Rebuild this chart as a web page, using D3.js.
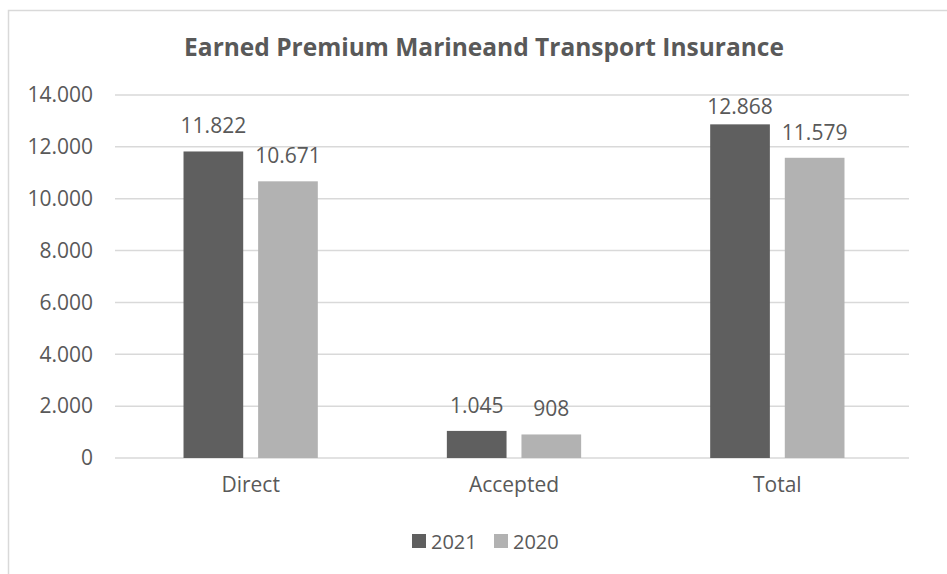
<!DOCTYPE html>
<html>
<head>
<meta charset="utf-8">
<script src="https://cdn.jsdelivr.net/npm/d3@7"></script>
<style>
  body { margin: 0; background: #fff; }
  text { font-family: "Open Sans", sans-serif; fill: #595959; }
</style>
</head>
<body>
<div id="chart"></div>
<script>
const categories = ["Direct", "Accepted", "Total"];
const seriesNames = ["2021", "2020"];
const values2021 = [11822, 1045, 12868];
const values2020 = [10671, 908, 11579];
const yTicks = [0, 2000, 4000, 6000, 8000, 10000, 12000, 14000];
const colors = ["#5f5f5f", "#b2b2b2"];

const W = 947, H = 574;
const margin = { top: 95, right: 38, bottom: 116, left: 119 };
const width = W - margin.left - margin.right;
const height = H - margin.top - margin.bottom;

const locale = d3.formatLocale({ decimal: ",", thousands: ".", grouping: [3], currency: ["", ""] });
const fmt = locale.format(",d");

const svg = d3.select("#chart").append("svg").attr("width", W).attr("height", H);

// outer frame
svg.append("rect")
  .attr("x", 8.5).attr("y", 10.5)
  .attr("width", W).attr("height", H)
  .attr("fill", "none").attr("stroke", "#d9d9d9").attr("stroke-width", 1.5);

svg.append("text")
  .attr("x", 484).attr("y", 56)
  .attr("text-anchor", "middle")
  .attr("font-size", 24.5).attr("font-weight", "bold")
  .text("Earned Premium Marineand Transport Insurance");

const g = svg.append("g").attr("transform", `translate(${margin.left},${margin.top})`);

const x0 = d3.scaleBand().domain(categories).range([0, width]).paddingInner(0.49).paddingOuter(0.245);
const x1 = d3.scaleBand().domain(seriesNames).range([0, x0.bandwidth()]).paddingInner(0.2);
const y = d3.scaleLinear().domain([0, 14000]).range([height, 0]);

// gridlines
g.selectAll(".grid")
  .data(yTicks)
  .enter()
  .append("line")
  .attr("x1", -4).attr("x2", width)
  .attr("y1", d => y(d)).attr("y2", d => y(d))
  .attr("stroke", "#d9d9d9").attr("stroke-width", 1.5);

// y axis labels
const yAxis = g.append("g").call(d3.axisLeft(y).tickValues(yTicks).tickFormat(d => fmt(d)).tickSize(0).tickPadding(26));
yAxis.select(".domain").remove();
yAxis.selectAll("text").attr("font-size", 21).attr("fill", "#595959").attr("font-family", "Open Sans, sans-serif");

// x axis labels
const xAxis = g.append("g").attr("transform", `translate(0,${height})`)
  .call(d3.axisBottom(x0).tickSize(0).tickPadding(19));
xAxis.select(".domain").remove();
xAxis.selectAll("text").attr("font-size", 21).attr("fill", "#595959").attr("font-family", "Open Sans, sans-serif");

const rows = categories.map((c, i) => ({ cat: c, vals: [values2021[i], values2020[i]] }));

const groups = g.selectAll("g.grp")
  .data(rows)
  .enter()
  .append("g")
  .attr("class", "grp")
  .attr("transform", d => `translate(${x0(d.cat)},0)`);

groups.selectAll("rect")
  .data(d => d.vals.map((v, j) => ({ key: seriesNames[j], v, j })))
  .enter()
  .append("rect")
  .attr("x", d => x1(d.key))
  .attr("y", d => y(d.v))
  .attr("width", x1.bandwidth())
  .attr("height", d => height - y(d.v))
  .attr("fill", d => colors[d.j]);

// value labels, kept inside the plot area like Excel does
groups.selectAll("text.lbl")
  .data(d => d.vals.map((v, j) => ({ key: seriesNames[j], v, j })))
  .enter()
  .append("text")
  .attr("class", "lbl")
  .attr("x", d => x1(d.key) + x1.bandwidth() / 2)
  .attr("y", d => Math.max(y(d.v) - 18, 19))
  .attr("text-anchor", "middle")
  .attr("font-size", 21)
  .text(d => fmt(d.v));

// legend
const legend = svg.append("g").attr("transform", "translate(412,534)");
const items = legend.selectAll("g")
  .data(seriesNames)
  .enter()
  .append("g")
  .attr("transform", (d, i) => `translate(${i * 82},0)`);
items.append("rect").attr("width", 14).attr("height", 14).attr("fill", (d, i) => colors[i]);
items.append("text").attr("x", 19).attr("y", 14.5).attr("font-size", 20).text(d => d);
</script>
</body>
</html>
